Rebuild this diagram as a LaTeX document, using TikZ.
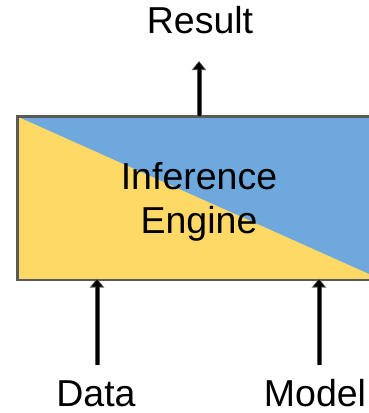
\documentclass[tikz,border=0pt]{standalone}
\usepackage{fontspec}
\setmainfont{Liberation Sans}
\usetikzlibrary{arrows.meta}
\definecolor{engblue}{HTML}{6FA8DC}
\definecolor{engyellow}{HTML}{FFD966}
\definecolor{edgegrey}{HTML}{595959}
\tikzset{
  bigtext/.style={font=\fontsize{37.5}{44}\selectfont, inner sep=0pt},
  arr/.style={line width=5pt, draw=edgegrey,
    -{Triangle[length=9pt,width=14pt]},
    postaction={draw=black, line width=3pt, shorten >=1.2pt,
      -{Triangle[length=7pt,width=10.5pt]}}},
}
\begin{document}
\begin{tikzpicture}[x=1pt,y=-1pt]
\useasboundingbox (0,0) rectangle (368,413);
% box
\node (box) [draw=edgegrey, line width=1.5pt, minimum width=364pt, minimum height=163pt,
  inner sep=0pt, anchor=north west, fill=engblue,
  path picture={\fill[engyellow] (path picture bounding box.north west) --
     (path picture bounding box.south east) -- (path picture bounding box.south west) -- cycle;}]
  at (17,116) {};
\draw[edgegrey, line width=1.5pt] (box.north west) rectangle (box.south east);
\node (eng) [bigtext, align=center] at (199,201.5) {Inference\\Engine};
% labels
\node (res) [bigtext, anchor=base] at (200,33) {Result};
\node (data) [bigtext, anchor=base] at (96,406) {Data};
\node (model) [bigtext, anchor=base] at (315,406) {Model};
% connector end points
\coordinate (rtip) at (199,61);
\coordinate (rbase) at (199,116);
\coordinate (dstart) at (97,365);
\coordinate (mstart) at (319,365);
\draw[arr] (rbase) -- (rtip);
\draw[arr] (dstart) -- ([yshift=2pt]dstart |- box.south);
\draw[arr] (mstart) -- ([yshift=2pt]mstart |- box.south);
\end{tikzpicture}
\end{document}
